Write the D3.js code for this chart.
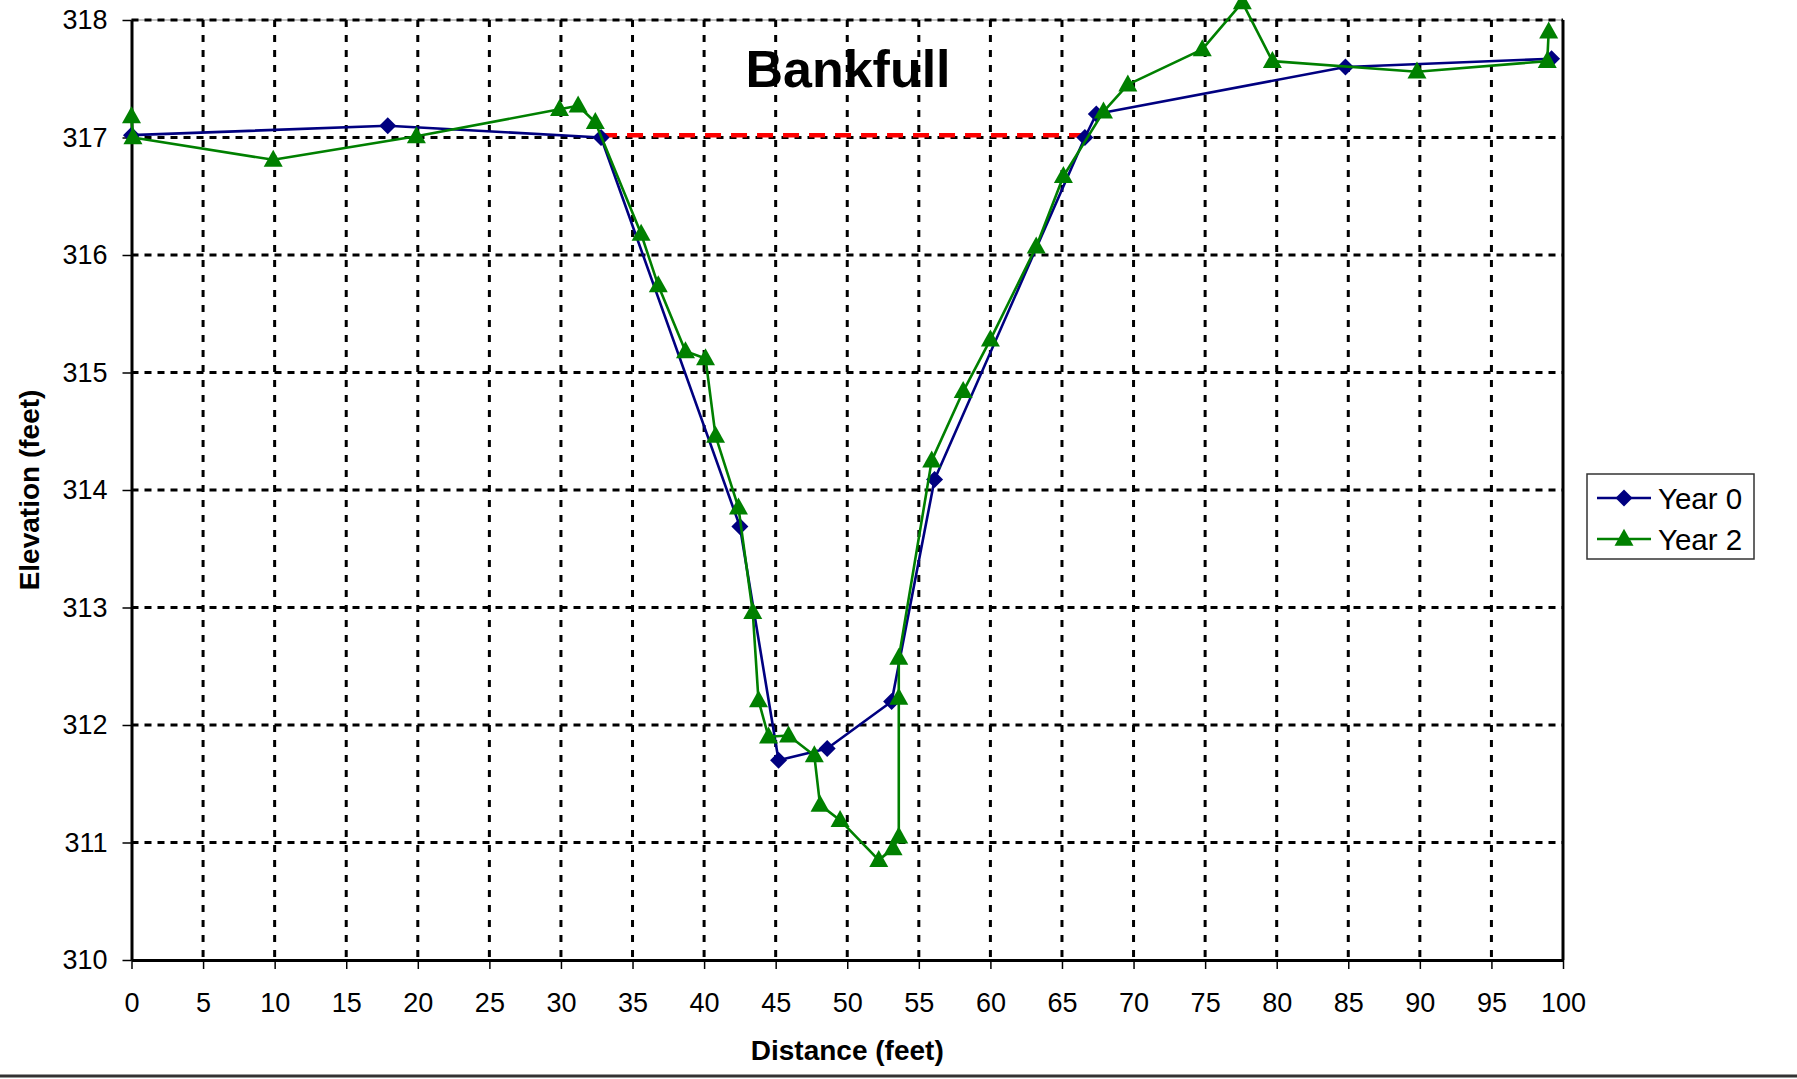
<!DOCTYPE html>
<html>
<head>
<meta charset="utf-8">
<script src="https://cdn.jsdelivr.net/npm/d3@7/dist/d3.min.js"></script>
<style>
  html, body { margin: 0; padding: 0; background: #fff; }
  svg { display: block; font-family: "Liberation Sans", Arial, sans-serif; }
</style>
</head>
<body>
<svg id="chart" width="1797" height="1079"></svg>
<script>
// Cross-section survey: distance across the channel (feet) and ground elevation (feet)
const year0Distance = [0, 17.9, 32.8, 42.5, 45.2, 48.6, 53.1, 56.1, 66.6, 67.4, 84.8, 99.2];
const year0Elevation = [317.02, 317.10, 317.00, 313.69, 311.70, 311.80, 312.20, 314.09, 317.00, 317.20, 317.60, 317.67];

const year2Distance = [0, 0.1, 9.9, 19.9, 29.9, 31.2, 32.4, 35.6, 36.8, 38.7, 40.1, 40.8, 42.4, 43.4, 43.8, 44.5,
  45.9, 47.7, 48.1, 49.5, 52.2, 53.2, 53.6, 53.6, 53.6, 55.9, 58.1, 60.0, 63.2, 65.1, 67.9, 69.6, 74.8, 77.6,
  79.7, 89.8, 98.9, 99.0];
const year2Elevation = [317.18, 317.00, 316.81, 317.01, 317.24, 317.27, 317.13, 316.18, 315.74, 315.18, 315.12, 314.46,
  313.85, 312.96, 312.21, 311.90, 311.91, 311.74, 311.32, 311.19, 310.85, 310.95, 311.05, 312.23, 312.57, 314.25,
  314.84, 315.28, 316.07, 316.67, 317.22, 317.45, 317.75, 318.15, 317.65, 317.56, 317.65, 317.90];

// Bankfull stage line between the two bank tops
const bankfullDistance = [32.8, 66.4];
const bankfullElevation = [317.02, 317.02];

const xTicks = d3.range(0, 101, 5);
const yTicks = d3.range(310, 319, 1);

const seriesNames = ["Year 0", "Year 2"];
const seriesColors = ["#000080", "#008000"];

const toPoints = (xs, ys) => xs.map((d, i) => ({ x: d, y: ys[i] }));
const year0 = toPoints(year0Distance, year0Elevation);
const year2 = toPoints(year2Distance, year2Elevation);
const bankfull = toPoints(bankfullDistance, bankfullElevation);

const plot = { left: 131.5, right: 1563, top: 20, bottom: 960 };

const svg = d3.select("#chart");
const x = d3.scaleLinear().domain([0, 100]).range([plot.left, plot.right]);
const y = d3.scaleLinear().domain([310, 318]).range([plot.bottom, plot.top]);

// Plot area frame (thin grey)
svg.append("rect")
  .attr("x", plot.left).attr("y", plot.top)
  .attr("width", plot.right - plot.left).attr("height", plot.bottom - plot.top)
  .attr("fill", "none").attr("stroke", "#888").attr("stroke-width", 1);

// Dotted gridlines
const grid = svg.append("g").attr("stroke", "#000").attr("stroke-width", 3);
grid.selectAll("line.v").data(xTicks.filter(d => d > 0 && d < 100)).join("line")
  .attr("class", "v")
  .attr("x1", d => x(d)).attr("x2", d => x(d))
  .attr("y1", plot.top).attr("y2", plot.bottom)
  .attr("stroke-dasharray", "7,8");
grid.selectAll("line.h").data(yTicks.filter(d => d > 310)).join("line")
  .attr("class", "h")
  .attr("x1", plot.left).attr("x2", plot.right)
  .attr("y1", d => y(d)).attr("y2", d => y(d))
  .attr("stroke-dasharray", "7,6");

// Right edge of plot area
svg.append("line")
  .attr("x1", plot.right).attr("x2", plot.right)
  .attr("y1", plot.top).attr("y2", plot.bottom)
  .attr("stroke", "#000").attr("stroke-width", 3);

// Axes
const xAxis = svg.append("g")
  .attr("transform", `translate(0,${plot.bottom})`)
  .call(d3.axisBottom(x).tickValues(xTicks).tickSize(9).tickPadding(24).tickSizeOuter(0));
const yAxis = svg.append("g")
  .attr("transform", `translate(${plot.left},0)`)
  .call(d3.axisLeft(y).tickValues(yTicks).tickSize(9).tickPadding(15).tickSizeOuter(0).tickFormat(d3.format("d")));
[xAxis, yAxis].forEach(g => {
  g.select(".domain").attr("stroke", "#000").attr("stroke-width", 3);
  g.selectAll(".tick line").attr("stroke", "#000").attr("stroke-width", 1.5);
  g.selectAll(".tick text").attr("fill", "#000").style("font-size", "27px")
    .style("font-family", "'Liberation Sans', Arial, sans-serif");
});

// Bankfull stage
const line = d3.line().x(d => x(d.x)).y(d => y(d.y));
svg.append("path").datum(bankfull)
  .attr("d", line).attr("fill", "none")
  .attr("stroke", "#ff0000").attr("stroke-width", 4.5).attr("stroke-dasharray", "16,10");

// Marker shapes
const diamondPath = (r) => `M0,${-r}L${r},0L0,${r}L${-r},0Z`;
const trianglePath = (w, h) => `M0,${-h * 0.6}L${w / 2},${h * 0.4}L${-w / 2},${h * 0.4}Z`;

function drawSeries(data, color, markerPath) {
  const g = svg.append("g");
  g.append("path").datum(data)
    .attr("d", line).attr("fill", "none")
    .attr("stroke", color).attr("stroke-width", 2.6).attr("stroke-linejoin", "round");
  g.selectAll("path.mk").data(data).join("path")
    .attr("class", "mk")
    .attr("d", markerPath)
    .attr("transform", d => `translate(${x(d.x)},${y(d.y)})`)
    .attr("fill", color);
}
drawSeries(year0, seriesColors[0], diamondPath(8.5));
drawSeries(year2, seriesColors[1], trianglePath(19, 17));

// Title
svg.append("text")
  .attr("x", 848).attr("y", 87)
  .attr("text-anchor", "middle")
  .style("font-size", "52px").style("font-weight", "bold")
  .text("Bankfull");

// Axis titles
svg.append("text")
  .attr("x", (plot.left + plot.right) / 2).attr("y", 1060)
  .attr("text-anchor", "middle")
  .style("font-size", "28px").style("font-weight", "bold")
  .text("Distance (feet)");
svg.append("text")
  .attr("transform", `translate(39,${(plot.top + plot.bottom) / 2}) rotate(-90)`)
  .attr("text-anchor", "middle")
  .style("font-size", "28px").style("font-weight", "bold")
  .text("Elevation (feet)");

// Legend
const legend = svg.append("g").attr("transform", "translate(1587,474)");
legend.append("rect")
  .attr("width", 167).attr("height", 85)
  .attr("fill", "#fff").attr("stroke", "#333").attr("stroke-width", 1.5);
const markers = [diamondPath(8.5), trianglePath(19, 17)];
seriesNames.forEach((name, i) => {
  const row = legend.append("g").attr("transform", `translate(0,${24 + i * 41})`);
  row.append("line").attr("x1", 10).attr("x2", 64)
    .attr("stroke", seriesColors[i]).attr("stroke-width", 2.6);
  row.append("path").attr("d", markers[i]).attr("transform", "translate(37,0)")
    .attr("fill", seriesColors[i]);
  row.append("text").attr("x", 71).attr("y", 10.5)
    .style("font-size", "29.5px").text(name);
});

// Outer chart border along the bottom edge
svg.append("line")
  .attr("x1", 0).attr("x2", 1797).attr("y1", 1076).attr("y2", 1076)
  .attr("stroke", "#333").attr("stroke-width", 3);
</script>
</body>
</html>
